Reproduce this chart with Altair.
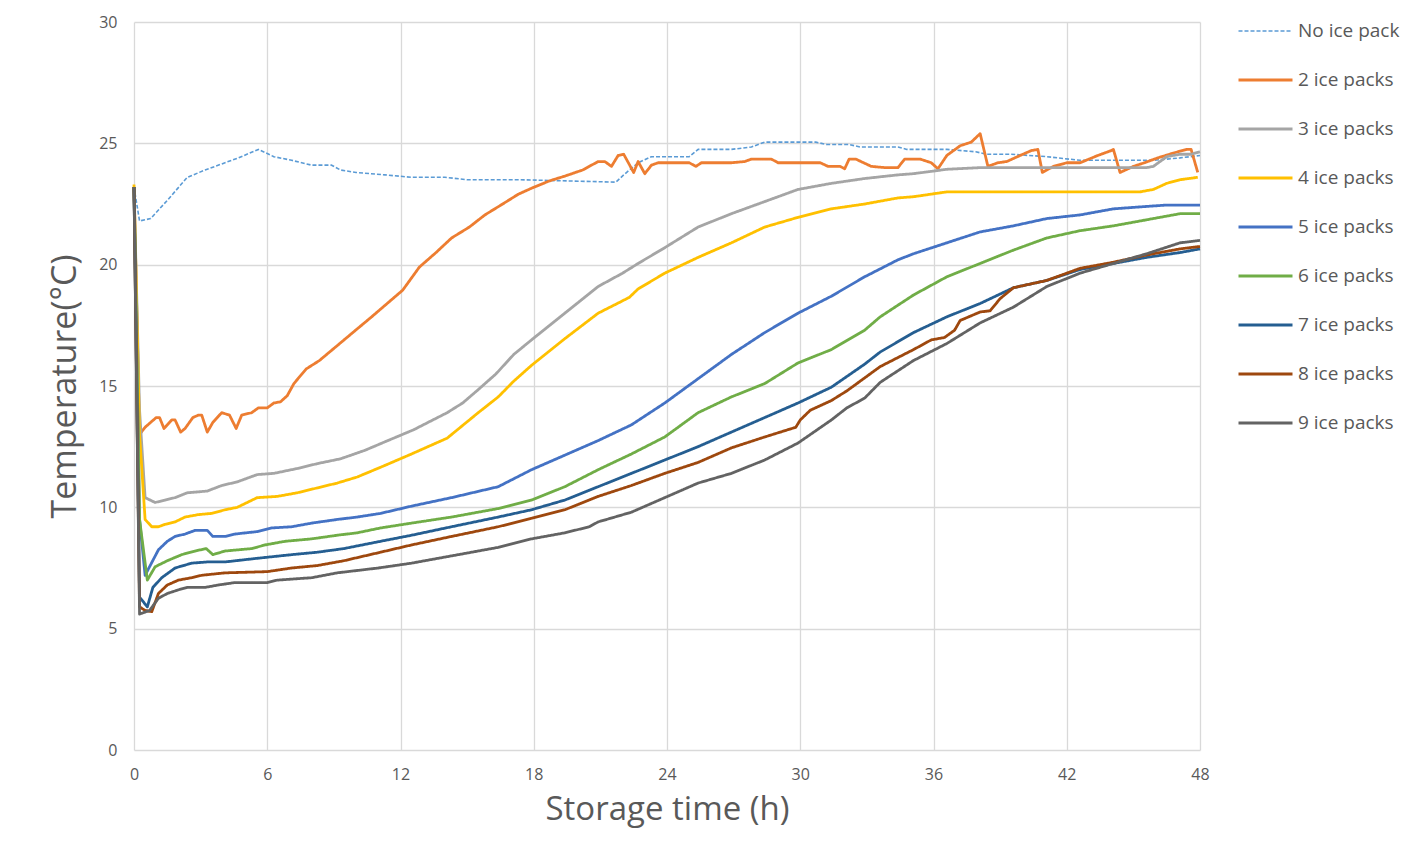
import altair as alt
import pandas as pd

SERIES = ["No ice pack", "2 ice packs", "3 ice packs", "4 ice packs", "5 ice packs",
          "6 ice packs", "7 ice packs", "8 ice packs", "9 ice packs"]
COLORS = ["#5B9BD5", "#ED7D31", "#A5A5A5", "#FFC000", "#4472C4",
          "#70AD47", "#255E91", "#9E480E", "#636363"]

t0 = [0, 0.25, 0.75, 1.5, 2.4, 3.2, 4.1, 4.7, 5.6, 6.3, 7.1, 8.0, 8.9, 9.3, 10.0, 11.3, 12.5, 14.0,
      15.0, 17.4, 21.7, 22.05, 22.7, 23.3, 25.0, 25.4, 26.9, 27.8, 28.4, 30.7, 31.2, 32.2, 32.7, 34.4,
      34.8, 36.6, 37.9, 38.4, 39.5, 41.1, 42.6, 45.9, 47.1, 48.0]
v0 = [23.2, 21.8, 21.9, 22.65, 23.6, 23.9, 24.2, 24.4, 24.75, 24.45, 24.3, 24.1, 24.1, 23.9, 23.8, 23.7, 23.6, 23.6,
      23.5, 23.5, 23.4, 23.7, 24.2, 24.45, 24.45, 24.75, 24.75, 24.85, 25.05, 25.05, 24.95, 24.95, 24.85, 24.85,
      24.75, 24.75, 24.65, 24.55, 24.55, 24.45, 24.3, 24.3, 24.4, 24.5]

t2 = [0, 0.25, 0.5, 1.0, 1.15, 1.35, 1.7, 1.85, 2.1, 2.3, 2.65, 2.9, 3.05, 3.3, 3.55, 3.95, 4.3, 4.6,
      4.85, 5.3, 5.6, 6.0, 6.3, 6.6, 6.9, 7.2, 7.75, 8.35, 9.85, 10.7, 12.1, 12.85, 13.6, 14.3, 15.1,
      15.8, 16.6, 17.3, 17.9, 18.7, 19.4, 20.2, 20.9, 21.2, 21.5, 21.8, 22.05, 22.5, 22.7, 23.0, 23.3,
      23.6, 25.0, 25.3, 25.55, 26.9, 27.5, 27.8, 28.7, 29.0, 30.9, 31.25, 31.8, 32.0, 32.2, 32.5, 33.2,
      33.8, 34.4, 34.7, 35.4, 35.9, 36.2, 36.6, 37.2, 37.7, 38.1, 38.45, 38.9, 39.3, 39.9, 40.4, 40.7,
      40.9, 41.4, 42.0, 42.6, 43.4, 44.0, 44.1, 44.4, 45.0, 45.5, 46.1, 46.8, 47.4, 47.6, 47.9]
v2 = [23.2, 13.0, 13.3, 13.7, 13.7, 13.25, 13.6, 13.6, 13.1, 13.25, 13.7, 13.8, 13.8, 13.1, 13.5, 13.9, 13.8, 13.25,
      13.8, 13.9, 14.1, 14.1, 14.3, 14.35, 14.6, 15.1, 15.7, 16.05, 17.2, 17.85, 18.95, 19.9, 20.5, 21.1, 21.55,
      22.05, 22.5, 22.9, 23.15, 23.45, 23.65, 23.9, 24.25, 24.25, 24.05, 24.5, 24.55, 23.8, 24.25, 23.75, 24.1,
      24.2, 24.2, 24.05, 24.2, 24.2, 24.25, 24.35, 24.35, 24.2, 24.2, 24.05, 24.05, 23.95, 24.35, 24.35, 24.05,
      24.0, 24.0, 24.35, 24.35, 24.2, 23.95, 24.5, 24.9, 25.05, 25.4, 24.05, 24.2, 24.25, 24.5, 24.7, 24.75,
      23.8, 24.05, 24.2, 24.2, 24.5, 24.7, 24.75, 23.8, 24.05, 24.2, 24.4, 24.6, 24.75, 24.75, 23.8]

t3 = [0, 0.25, 0.5, 0.95, 1.4, 1.85, 2.4, 3.3, 3.95, 4.65, 5.55, 6.3, 7.35, 8.25, 9.3, 10.4, 11.3, 12.6,
      14.1, 14.8, 15.5, 16.3, 17.1, 17.9, 19.4, 20.9, 22.0, 22.7, 23.9, 25.4, 26.9, 28.4, 29.9, 31.4, 32.9,
      34.4, 35.1, 36.6, 38.1, 41.1, 45.6, 45.9, 46.5, 47.1, 47.6, 48.0]
v3 = [23.2, 14.0, 10.4, 10.2, 10.3, 10.4, 10.6, 10.67, 10.9, 11.05, 11.35, 11.4, 11.6, 11.8, 12.0, 12.35, 12.7, 13.2,
      13.9, 14.3, 14.85, 15.5, 16.3, 16.9, 18.0, 19.1, 19.65, 20.05, 20.7, 21.55, 22.1, 22.6, 23.1, 23.35, 23.55,
      23.7, 23.75, 23.93, 24.0, 24.0, 24.0, 24.05, 24.45, 24.55, 24.55, 24.65]

t4 = [0, 0.25, 0.5, 0.8, 1.1, 1.4, 1.85, 2.3, 2.9, 3.5, 4.1, 4.65, 5.55, 6.45, 7.35, 8.25, 9.15, 10.05,
      11.1, 12.5, 14.1, 15.5, 16.4, 17.1, 17.9, 19.4, 20.9, 22.3, 22.7, 23.9, 25.4, 26.9, 28.4, 29.9, 31.4,
      32.9, 34.4, 35.1, 36.6, 41.1, 45.3, 45.9, 46.5, 47.1, 47.9]
v4 = [23.3, 13.0, 9.5, 9.2, 9.2, 9.3, 9.4, 9.6, 9.7, 9.75, 9.9, 10.0, 10.4, 10.45, 10.6, 10.8, 11.0, 11.25,
      11.65, 12.2, 12.85, 13.9, 14.55, 15.2, 15.85, 16.95, 18.0, 18.65, 19.0, 19.65, 20.3, 20.9, 21.55, 21.95,
      22.3, 22.5, 22.75, 22.8, 23.0, 23.0, 23.0, 23.1, 23.35, 23.5, 23.6]

t5 = [0, 0.25, 0.5, 1.1, 1.5, 1.85, 2.3, 2.75, 3.3, 3.55, 4.1, 4.55, 5.55, 6.2, 7.1, 8.0, 9.15, 10.05,
      11.1, 12.5, 14.3, 16.4, 17.9, 19.4, 20.9, 22.4, 23.9, 25.4, 26.9, 28.4, 29.9, 31.4, 32.9, 34.4, 35.1,
      36.6, 38.1, 39.6, 41.1, 42.6, 44.1, 45.6, 46.4, 48.0]
v5 = [23.2, 9.5, 7.2, 8.25, 8.6, 8.8, 8.9, 9.05, 9.05, 8.8, 8.8, 8.9, 9.0, 9.15, 9.2, 9.35, 9.5, 9.6,
      9.75, 10.05, 10.4, 10.85, 11.55, 12.15, 12.75, 13.4, 14.3, 15.3, 16.3, 17.2, 18.0, 18.7, 19.5, 20.2, 20.45,
      20.9, 21.35, 21.6, 21.9, 22.05, 22.3, 22.4, 22.45, 22.45]

t6 = [0, 0.25, 0.6, 0.95, 1.5, 2.15, 2.75, 3.25, 3.55, 4.1, 5.3, 5.9, 6.8, 8.0, 9.15, 10.05, 11.1, 12.5,
      14.3, 16.4, 17.9, 19.4, 20.9, 22.4, 23.9, 25.4, 26.9, 28.4, 29.9, 31.4, 32.9, 33.6, 35.1, 36.6, 38.1,
      39.6, 41.1, 42.6, 44.1, 45.6, 47.1, 48.0]
v6 = [23.2, 9.5, 7.0, 7.55, 7.8, 8.05, 8.2, 8.3, 8.05, 8.2, 8.3, 8.45, 8.6, 8.7, 8.85, 8.95, 9.15, 9.35,
      9.6, 9.95, 10.3, 10.85, 11.55, 12.2, 12.9, 13.9, 14.55, 15.1, 15.95, 16.5, 17.3, 17.85, 18.75, 19.5, 20.05,
      20.6, 21.1, 21.4, 21.6, 21.85, 22.1, 22.1]

t7 = [0, 0.25, 0.6, 0.85, 1.25, 1.85, 2.6, 3.3, 4.1, 5.55, 7.1, 8.25, 9.45, 11.1, 12.5, 14.3, 16.4, 17.9,
      19.4, 20.9, 22.4, 23.9, 25.4, 26.9, 28.4, 29.9, 31.4, 32.9, 33.6, 35.1, 36.6, 38.1, 39.6, 41.1, 42.6,
      44.1, 45.6, 47.1, 48.0]
v7 = [23.2, 6.3, 5.9, 6.7, 7.1, 7.5, 7.7, 7.75, 7.75, 7.9, 8.05, 8.15, 8.3, 8.6, 8.85, 9.2, 9.6, 9.9,
      10.3, 10.85, 11.4, 11.95, 12.5, 13.1, 13.7, 14.3, 14.95, 15.9, 16.4, 17.2, 17.85, 18.4, 19.05, 19.35, 19.8,
      20.05, 20.3, 20.5, 20.65]

t8 = [0, 0.25, 0.5, 0.8, 1.1, 1.5, 2.0, 2.6, 3.05, 4.1, 6.0, 7.1, 8.25, 9.45, 11.1, 12.5, 14.3, 16.4,
      17.9, 19.4, 20.9, 22.4, 23.9, 25.4, 26.9, 28.4, 29.1, 29.8, 30.0, 30.45, 31.4, 32.1, 33.6, 35.1, 35.9,
      36.5, 36.95, 37.2, 38.1, 38.55, 39.0, 39.6, 41.1, 42.6, 44.1, 45.6, 47.1, 48.0]
v8 = [23.2, 5.9, 5.75, 5.7, 6.45, 6.8, 7.0, 7.1, 7.2, 7.3, 7.35, 7.5, 7.6, 7.8, 8.15, 8.45, 8.8, 9.2,
      9.55, 9.9, 10.45, 10.9, 11.4, 11.85, 12.45, 12.9, 13.1, 13.3, 13.6, 14.0, 14.4, 14.8, 15.8, 16.5, 16.9,
      17.0, 17.3, 17.7, 18.05, 18.1, 18.6, 19.05, 19.35, 19.85, 20.1, 20.4, 20.65, 20.75]

t9 = [0, 0.25, 0.7, 1.1, 1.5, 2.0, 2.4, 3.2, 3.8, 4.55, 6.0, 6.45, 8.0, 9.15, 11.0, 12.5, 14.3, 16.4,
      17.9, 19.4, 20.5, 20.9, 22.4, 23.9, 25.4, 26.9, 28.4, 29.9, 31.4, 32.1, 32.9, 33.6, 35.1, 36.6, 38.1,
      39.6, 41.1, 42.6, 44.1, 45.6, 47.1, 48.0]
v9 = [23.2, 5.6, 5.75, 6.25, 6.45, 6.6, 6.7, 6.7, 6.8, 6.9, 6.9, 7.0, 7.1, 7.3, 7.5, 7.7, 8.0, 8.35,
      8.7, 8.95, 9.2, 9.4, 9.8, 10.4, 11.0, 11.4, 11.95, 12.65, 13.6, 14.1, 14.5, 15.15, 16.05, 16.75, 17.6,
      18.25, 19.1, 19.65, 20.05, 20.45, 20.9, 21.0]

TIMES = [t0, t2, t3, t4, t5, t6, t7, t8, t9]
TEMPS = [v0, v2, v3, v4, v5, v6, v7, v8, v9]
DASHES = [[4, 2]] + [[1, 0]] * 8
WIDTHS = [1.6] + [2.8] * 8

X_TICKS = [0, 6, 12, 18, 24, 30, 36, 42, 48]
Y_TICKS = [0, 5, 10, 15, 20, 25, 30]

rows = []
for name, ts, vs in zip(SERIES, TIMES, TEMPS):
    assert len(ts) == len(vs), name
    for i, (t, v) in enumerate(zip(ts, vs)):
        rows.append({"series": name, "time": t, "temp": v, "idx": i})
df = pd.DataFrame(rows)

FONT = "Open Sans"
TXT = "#595959"

legend = alt.Legend(
    title="", orient="none", legendX=1103, legendY=-1, direction="vertical",
    symbolType="stroke", symbolSize=2916, clipHeight=20, rowPadding=29,
    labelFontSize=19, labelColor=TXT, labelFont=FONT, labelOffset=4, padding=0,
)

chart = alt.Chart(df).mark_line(strokeJoin="round").encode(
    x=alt.X("time:Q", title="Storage time (h)",
            scale=alt.Scale(domain=[0, 48], nice=False, zero=False),
            axis=alt.Axis(values=X_TICKS, labelPadding=16, titlePadding=11, labelFlush=False,
                          titleFontSize=33)),
    y=alt.Y("temp:Q", title="Temperature(°C)",
            scale=alt.Scale(domain=[0, 30], nice=False),
            axis=alt.Axis(values=Y_TICKS, labelPadding=17, titlePadding=16, titleFontSize=34)),
    color=alt.Color("series:N", scale=alt.Scale(domain=SERIES, range=COLORS),
                    sort=SERIES, legend=legend),
    strokeDash=alt.StrokeDash("series:N", scale=alt.Scale(domain=SERIES, range=DASHES),
                              sort=SERIES, legend=legend),
    strokeWidth=alt.StrokeWidth("series:N", scale=alt.Scale(type="ordinal", domain=SERIES, range=WIDTHS),
                                sort=SERIES, legend=legend),
    order="idx:Q",
).properties(
    width=1066, height=728,
    autosize=alt.AutoSizeParams(type="none"),
    padding={"left": 126, "top": 14, "right": 220, "bottom": 90},
).configure_view(
    strokeWidth=0
).configure_axis(
    grid=True, gridColor="#D9D9D9", gridWidth=1.3, domain=False, ticks=False,
    labelFontSize=16, labelColor=TXT, labelFont=FONT,
    titleColor=TXT, titleFont=FONT, titleFontWeight="normal",
)

chart.save("out.html", embed_options={"renderer": "svg", "actions": False})
